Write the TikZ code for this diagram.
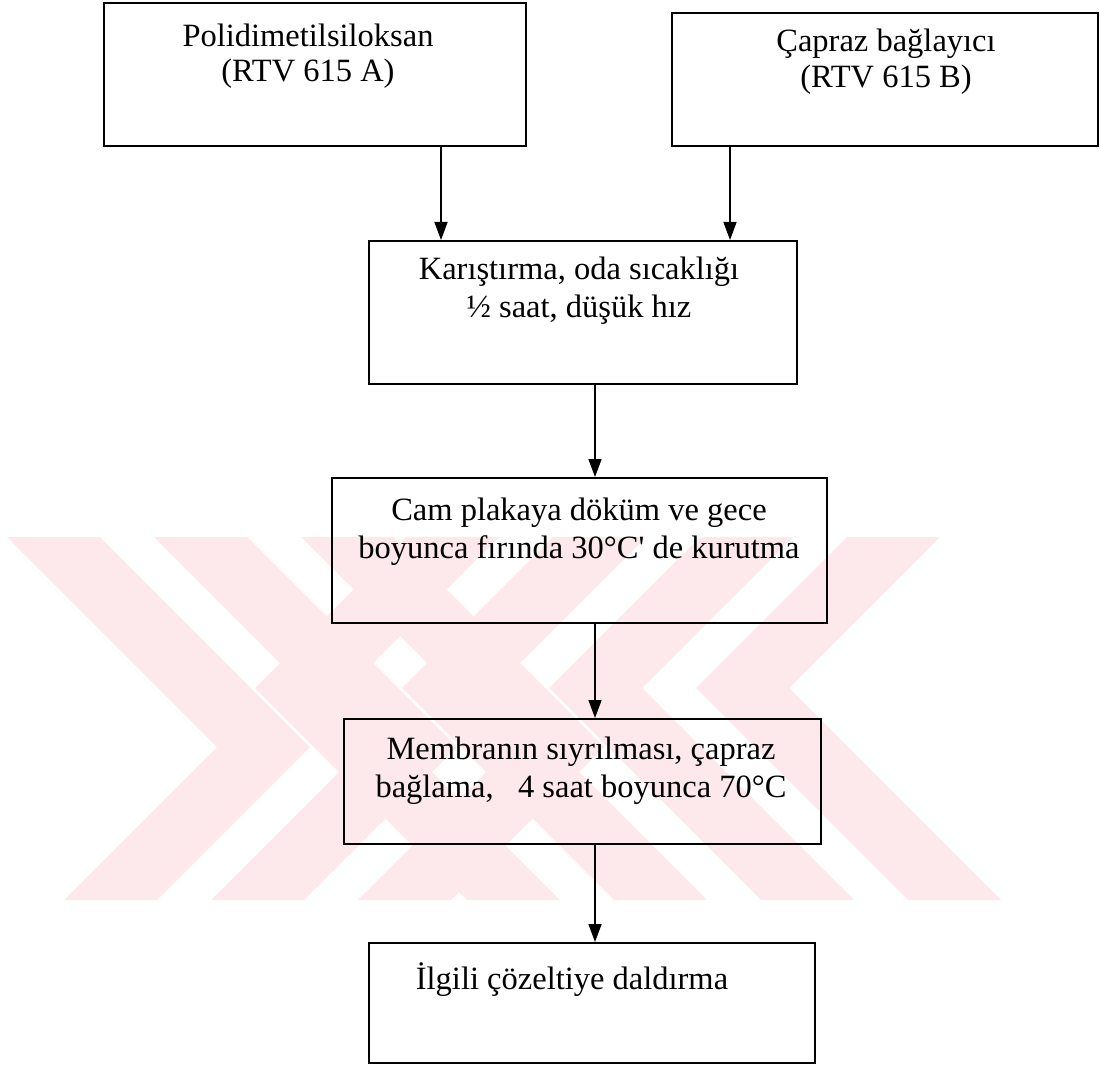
\documentclass[tikz,border=0pt]{standalone}
\usepackage{fontspec}
\setmainfont{Liberation Serif}[Ligatures=TeXOff]
\usetikzlibrary{arrows.meta}
\definecolor{wmpink}{RGB}{253,232,236}

% emblem band runs from y=537 to y=900; arms at 45 degrees
% chevron pointing right: top-left x, stripe width, apex y
\newcommand\chevR[3]{%
  \fill[wmpink] (#1,537) -- ({#1+#2},537) -- ({#1+#2+#3-537},#3) --
    ({#1+#2+2*#3-1437},900) -- ({#1+2*#3-1437},900) -- ({#1+#3-537},#3) -- cycle;}
% chevron pointing left: top-right x, stripe width, apex y
\newcommand\chevL[3]{%
  \fill[wmpink] (#1,537) -- ({#1-#2},537) -- ({#1-#2-#3+537},#3) --
    ({#1-#2-2*#3+1437},900) -- ({#1-2*#3+1437},900) -- ({#1-#3+537},#3) -- cycle;}

\begin{document}
\begin{tikzpicture}[x=1pt,y=-1pt,
  box/.style={draw, line width=2.2pt, anchor=north west, inner sep=0pt},
  txt/.style={align=center, inner sep=0pt,
    font=\fontsize{32.5}{#1}\selectfont},
  txt/.default=37,
  arr/.style={line width=1.5pt, -{Triangle[length=18pt,width=13pt]}}]

\useasboundingbox (0,0) rectangle (1100,1067);

% background emblem
\chevR{7}{93}{747}
\chevR{154}{93}{747}
\chevR{301}{93}{747}
\chevL{940}{93}{688}
\chevL{793}{93}{688}
\chevL{646}{93}{688}
\chevL{499}{93}{688}

% process boxes
\node[box, minimum width=422, minimum height=143] (A) at (103,2) {};
\node[box, minimum width=426, minimum height=133] (B) at (671,12) {};
\node[box, minimum width=428, minimum height=143] (C) at (368,240) {};
\node[box, minimum width=495, minimum height=145] (D) at (331,477) {};
\node[box, minimum width=477, minimum height=125] (E) at (343,718) {};
\node[box, minimum width=446, minimum height=120] (F) at (368,942) {};

% box texts
\node[txt=35] (At) at (308,56.5) {Polidimetilsiloksan\\(RTV 615 A)};
\node[txt=36] (Bt) at (886,62) {Çapraz bağlayıcı\\(RTV 615 B)};
\node[txt=38] (Ct) at (579,291) {Karıştırma, oda sıcaklığı\\½ saat, düşük hız};
\node[txt=38] (Dt) at (579,532) {Cam plakaya döküm ve gece\\boyunca fırında 30°C' de kurutma};
\node[txt=38] (Et) at (581,771) {Membranın sıyrılması, çapraz\\bağlama,\ \ \ 4 saat boyunca 70°C};
\node[txt] (Ft) at (572,980) {İlgili çözeltiye daldırma};

% arrow columns
\coordinate (xa) at (441,0);
\coordinate (xb) at (730,0);
\coordinate (xm) at (595,0);

\draw[arr] (A.south -| xa) -- (C.north -| xa);
\draw[arr] (B.south -| xb) -- (C.north -| xb);
\draw[arr] (C.south -| xm) -- (D.north -| xm);
\draw[arr] (D.south -| xm) -- (E.north -| xm);
\draw[arr] (E.south -| xm) -- (F.north -| xm);
\end{tikzpicture}
\end{document}
